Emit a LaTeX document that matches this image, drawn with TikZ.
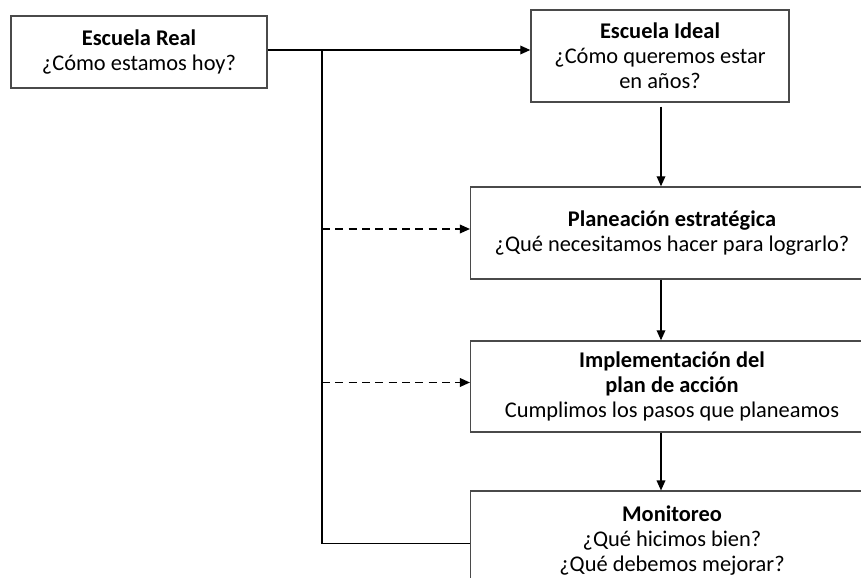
\documentclass[tikz,border=0pt]{standalone}
\usepackage{fontspec}
\setmainfont{Carlito}
\usetikzlibrary{arrows.meta}
\begin{document}
\begin{tikzpicture}[x=0.75pt,y=-0.75pt,
  box/.style={draw=boxgray,line width=1.1pt,fill=white,align=center,inner sep=0pt,
    font=\fontsize{16.8pt}{18.75pt}\selectfont},
  conn/.style={line width=1pt,draw=black},
  tip/.style={-{Triangle[length=7.5pt,width=6.5pt]}}]
\definecolor{boxgray}{HTML}{4A4A4A}
\clip (0,0) rectangle (861,578);
\fill[white] (0,0) rectangle (861,578);
\node[box,minimum width=192pt,minimum height=54pt] (real) at (139,52)
  {\textbf{Escuela Real}\\¿Cómo estamos hoy?};
\node[box,minimum width=193.5pt,minimum height=69pt] (ideal) at (660,56)
  {\textbf{Escuela Ideal}\\¿Cómo queremos estar\\en años?};
\node[box,minimum width=302pt,minimum height=69pt] (plan) at (672,233)
  {\textbf{Planeación estratégica}\\¿Qué necesitamos hacer para lograrlo?};
\node[box,minimum width=302pt,minimum height=68.25pt] (impl) at (672,386.5)
  {\textbf{Implementación del}\\\textbf{plan de acción}\\Cumplimos los pasos que planeamos};
\node[box,minimum width=302pt,minimum height=74pt] (mon) at (672,540.5)
  {\textbf{Monitoreo}\\¿Qué hicimos bien?\\¿Qué debemos mejorar?};
\coordinate (j) at (322,0);
\coordinate (a) at (661,0);
\draw[conn,tip] ([yshift=1.5pt]real.east) -- ([yshift=1.5pt]real.east -| ideal.west);
\draw[conn] ([yshift=1.5pt]j |- real.east) -- ([yshift=-2pt]j |- mon.west) -- ([yshift=-2pt]mon.west);
\draw[conn,tip,dashed,dash pattern=on 6pt off 4pt] ([yshift=3pt]j |- plan.west) -- ([yshift=3pt]plan.west);
\draw[conn,tip,dashed,dash pattern=on 6pt off 4pt] ([yshift=3pt]j |- impl.west) -- ([yshift=3pt]impl.west);
\draw[conn,tip] ([yshift=-3pt]a |- ideal.south) -- (a |- plan.north);
\draw[conn,tip] (a |- plan.south) -- (a |- impl.north);
\draw[conn,tip] (a |- impl.south) -- (a |- mon.north);
\end{tikzpicture}
\end{document}
